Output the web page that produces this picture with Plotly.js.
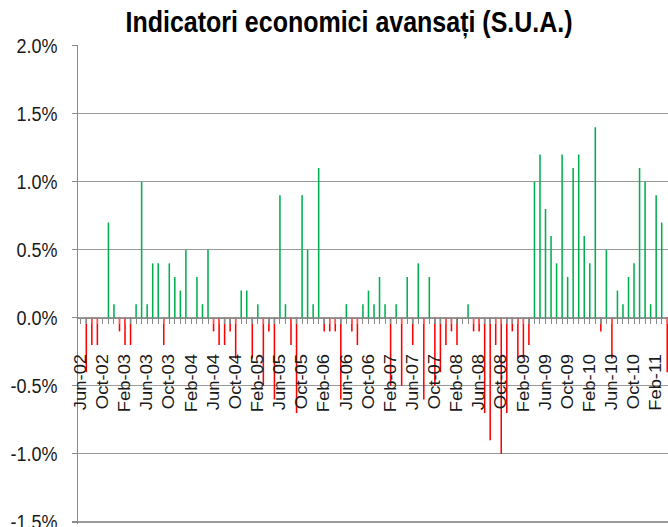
<!DOCTYPE html>
<html>
<head>
<meta charset="utf-8">
<script src="https://cdn.plot.ly/plotly-3.0.1.min.js"></script>
<style>
html, body { margin: 0; padding: 0; overflow: hidden; background: #fff; width: 668px; height: 527px; }
#chart { width: 670px; height: 458px; transform: scaleY(1.1507); transform-origin: 0 0; }
</style>
</head>
<body>
<div id="chart"></div>
<script>
// Categories (monthly), Jun-02 .. Apr-11
const months = [
  "Jun-02","Jul-02","Aug-02","Sep-02","Oct-02","Nov-02","Dec-02",
  "Jan-03","Feb-03","Mar-03","Apr-03","May-03","Jun-03","Jul-03","Aug-03","Sep-03","Oct-03","Nov-03","Dec-03",
  "Jan-04","Feb-04","Mar-04","Apr-04","May-04","Jun-04","Jul-04","Aug-04","Sep-04","Oct-04","Nov-04","Dec-04",
  "Jan-05","Feb-05","Mar-05","Apr-05","May-05","Jun-05","Jul-05","Aug-05","Sep-05","Oct-05","Nov-05","Dec-05",
  "Jan-06","Feb-06","Mar-06","Apr-06","May-06","Jun-06","Jul-06","Aug-06","Sep-06","Oct-06","Nov-06","Dec-06",
  "Jan-07","Feb-07","Mar-07","Apr-07","May-07","Jun-07","Jul-07","Aug-07","Sep-07","Oct-07","Nov-07","Dec-07",
  "Jan-08","Feb-08","Mar-08","Apr-08","May-08","Jun-08","Jul-08","Aug-08","Sep-08","Oct-08","Nov-08","Dec-08",
  "Jan-09","Feb-09","Mar-09","Apr-09","May-09","Jun-09","Jul-09","Aug-09","Sep-09","Oct-09","Nov-09","Dec-09",
  "Jan-10","Feb-10","Mar-10","Apr-10","May-10","Jun-10","Jul-10","Aug-10","Sep-10","Oct-10","Nov-10","Dec-10",
  "Jan-11","Feb-11","Mar-11","Apr-11"
];

// Monthly change of the leading index, in %
const values = [
   0.0,-0.4,-0.2,-0.2, 0.0, 0.7, 0.1,
  -0.1,-0.2,-0.2, 0.1, 1.0, 0.1, 0.4, 0.4,-0.2, 0.4, 0.3, 0.2,
   0.5, 0.0, 0.3, 0.1, 0.5,-0.1,-0.2,-0.2,-0.1,-0.3, 0.2, 0.2,
  -0.3, 0.1,-0.5,-0.1,-0.6, 0.9, 0.1,-0.2,-0.7, 0.9, 0.5, 0.1,
   1.1,-0.1,-0.1,-0.1,-0.6, 0.1,-0.1,-0.2, 0.1, 0.2, 0.1, 0.3,
   0.1,-0.5, 0.1,-0.5, 0.3,-0.2, 0.4,-0.6, 0.3,-0.5,-0.4,-0.2,
  -0.1,-0.2, 0.0, 0.1,-0.1,-0.1,-0.7,-0.9,-0.2,-1.0,-0.7,-0.1,
  -0.3,-0.3,-0.2, 1.0, 1.2, 0.8, 0.6, 0.4, 1.2, 0.3, 1.1, 1.2,
   0.6, 0.4, 1.4,-0.1, 0.5,-0.3, 0.2, 0.1, 0.3, 0.4, 1.1, 1.0,
   0.1, 0.9, 0.7,-0.4
];

// Axis labels
const xTickLabels = ["Jun-02","Oct-02","Feb-03","Jun-03","Oct-03","Feb-04","Jun-04","Oct-04",
  "Feb-05","Jun-05","Oct-05","Feb-06","Jun-06","Oct-06","Feb-07","Jun-07","Oct-07","Feb-08",
  "Jun-08","Oct-08","Feb-09","Jun-09","Oct-09","Feb-10","Jun-10","Oct-10","Feb-11"];
const yTickValues = [-1.5, -1.0, -0.5, 0.0, 0.5, 1.0, 1.5, 2.0];
const yTickLabels = ["-1.5%","-1.0%","-0.5%","0.0%","0.5%","1.0%","1.5%","2.0%"];
const chartTitle = "Indicatori economici avansați (S.U.A.)";

const GREEN = "#00B050", RED = "#FF0000";
const colors = values.map(v => v >= 0 ? GREEN : RED);
const tickText = months.map(m => xTickLabels.includes(m) ? m : "");

const yMin = -1.512, yMax = 2.005;
const FONT = "Liberation Sans, Arial, sans-serif";

const trace = {
  type: "bar",
  x: months,
  y: values,
  marker: { color: colors, line: { width: 0 } },
  hoverinfo: "skip"
};

const layout = {
  width: 670, height: 458,
  margin: { l: 78, r: 0, t: 38.9, b: 3.0, pad: 0 },
  paper_bgcolor: "#ffffff",
  plot_bgcolor: "#ffffff",
  bargap: 0.72,
  showlegend: false,
  font: { family: FONT, color: "#1a1a1a" },
  title: {
    text: "<b>" + chartTitle + "</b>",
    font: { family: FONT, size: 25, color: "#000" },
    x: 348 / 668, xref: "container", xanchor: "center",
    y: 0.9583, yref: "container", yanchor: "middle"
  },
  xaxis: {
    type: "category",
    anchor: "free",
    position: (0 - yMin) / (yMax - yMin),
    showgrid: false,
    zeroline: false,
    showline: true, linecolor: "#8a8a8a", linewidth: 1,
    ticks: "outside", ticklen: 4, tickcolor: "#8a8a8a", tickwidth: 1,
    tickmode: "array", tickvals: months, ticktext: tickText,
    tickangle: -90,
    ticklabelstandoff: 20,
    tickfont: { size: 16, color: "#1a1a1a", family: FONT },
    range: [-0.5, months.length - 0.5],
    fixedrange: true
  },
  yaxis: {
    range: [yMin, yMax],
    tickmode: "array", tickvals: yTickValues, ticktext: yTickLabels,
    showgrid: true, gridcolor: "#9a9a9a", gridwidth: 1,
    zeroline: false,
    showline: true, linecolor: "#8a8a8a", linewidth: 1,
    ticks: "outside", ticklen: 5, tickcolor: "#8a8a8a",
    ticklabelstandoff: 11,
    ticklabeloverflow: "allow",
    tickfont: { size: 18, color: "#1a1a1a", family: FONT },
    fixedrange: true
  }
};

Plotly.newPlot("chart", [trace], layout, { staticPlot: true, displayModeBar: false });
</script>
</body>
</html>
